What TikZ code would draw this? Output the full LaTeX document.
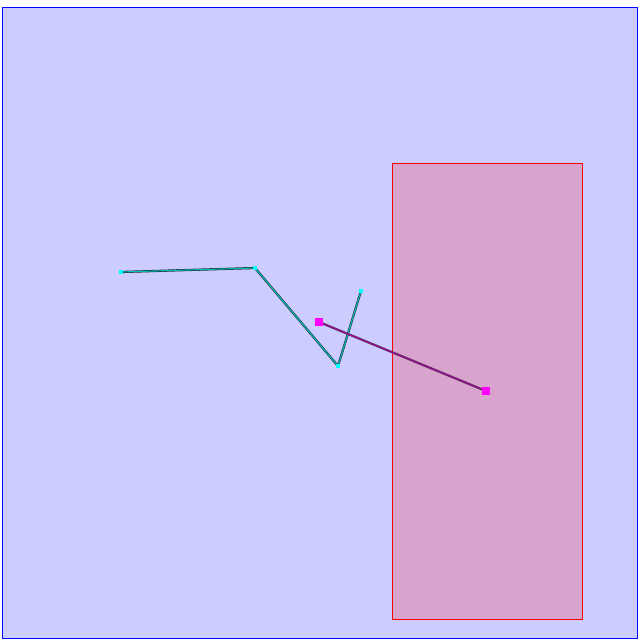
\documentclass[tikz,border=0pt]{standalone}
\definecolor{boardfill}{RGB}{204,204,255}
\definecolor{zonefill}{RGB}{216,163,204}
\definecolor{pathcyan}{RGB}{0,255,255}
\definecolor{pathteal}{RGB}{0,190,190}
\definecolor{endmagenta}{RGB}{255,0,255}
\definecolor{segpurple}{RGB}{170,0,170}
\usepackage{tikz}
\pgfdeclarelayer{bg}
\pgfdeclarelayer{lines}
\pgfsetlayers{bg,lines,main}

\begin{document}
\begin{tikzpicture}[x=1pt, y=-1pt,
      board/.style={draw=blue, line width=1pt, fill=boardfill},
      zone/.style={draw=red, line width=1pt, fill=zonefill},
      vtx/.style={rectangle, fill=pathcyan, inner sep=0pt, minimum size=4.5pt},
      endpt/.style={rectangle, fill=endmagenta, inner sep=0pt, minimum size=7.5pt},
      edgeback/.style={line width=2.2pt, black!85},
      edge/.style={line width=1.1pt, pathteal},
      segback/.style={line width=2.2pt, black!75},
      seg/.style={line width=1.1pt, segpurple}]
    \useasboundingbox (0,0) rectangle (640,640);
    % board and target zone
    \begin{pgfonlayer}{bg}
      \draw[board] (2,7) rectangle (637,638);
      \draw[zone] (392,163) rectangle (582,619);
    \end{pgfonlayer}
    % vertices
    \node[vtx] (p1) at (121,272) {};
    \node[vtx] (p2) at (255,268) {};
    \node[vtx] (p3) at (338,366) {};
    \node[vtx] (p4) at (361,291) {};
    \node[endpt] (s1) at (319,322) {};
    \node[endpt] (s2) at (486,391) {};
    \begin{pgfonlayer}{lines}
      % polyline
      \draw[edgeback] (p1.center) -- (p2.center) -- (p3.center) -- (p4.center);
      \draw[edge] (p1.center) -- (p2.center) -- (p3.center) -- (p4.center);
      % segment
      \draw[segback] (s1.center) -- (s2.center);
      \draw[seg] (s1.center) -- (s2.center);
    \end{pgfonlayer}
  \end{tikzpicture}
\end{document}
